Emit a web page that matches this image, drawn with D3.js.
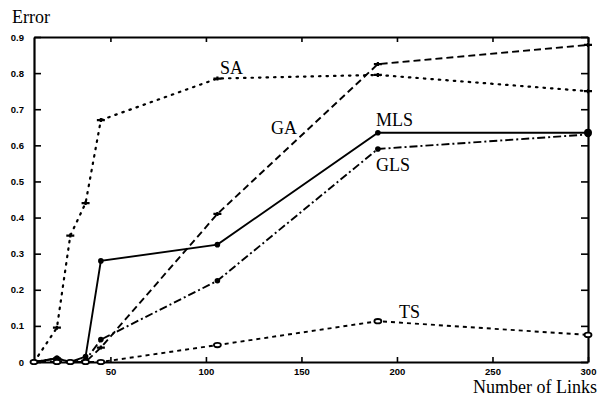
<!DOCTYPE html>
<html>
<head>
<meta charset="utf-8">
<script src="https://cdn.jsdelivr.net/npm/d3@7"></script>
<style>
  body { margin: 0; background: #fff; }
  .tick text { font-family: "Liberation Sans", Arial, sans-serif; font-weight: bold; font-size: 9.5px; }
  .lbl { font-family: "Liberation Serif", "Times New Roman", serif; font-size: 18px; fill: #000; }
</style>
</head>
<body>
<div id="chart"></div>
<script>
// number of links (x) shared by all series
var links = [10, 22, 29, 37, 45, 106, 190, 300];

var mls = [0, 0.01, 0, 0.015, 0.28, 0.325, 0.635, 0.635];
var gls = [0, 0.01, 0, 0.005, 0.062, 0.225, 0.59, 0.63];
var ga  = [0, 0.01, 0, 0, 0.04, 0.41, 0.825, 0.878];
var sa  = [0, 0.095, 0.35, 0.44, 0.67, 0.785, 0.795, 0.75];
var ts  = [0, 0, 0, 0, 0, 0.047, 0.113, 0.075];

var xTicks = [50, 100, 150, 200, 250, 300];
var yTicks = [0, 0.1, 0.2, 0.3, 0.4, 0.5, 0.6, 0.7, 0.8, 0.9];

var svgWidth = 603, svgHeight = 398;
var margin = {top: 37, right: 15, bottom: 36, left: 34};
var width = svgWidth - margin.left - margin.right;
var height = svgHeight - margin.top - margin.bottom;

var svg = d3.select("#chart").append("svg")
  .attr("width", svgWidth)
  .attr("height", svgHeight);

var chartGroup = svg.append("g")
  .attr("transform", `translate(${margin.left}, ${margin.top})`);

var xScale = d3.scaleLinear().domain([10, 300]).range([0, width]);
var yScale = d3.scaleLinear().domain([0, 0.9]).range([height, 0]);

function yFmt(d) { return d === 0 ? "0" : d3.format(".1f")(d); }

// bottom axis, ticks pointing inward
chartGroup.append("g")
  .attr("transform", `translate(0, ${height})`)
  .call(d3.axisBottom(xScale).tickValues(xTicks).tickSizeInner(-5).tickSizeOuter(0).tickPadding(6));
// top axis, ticks only
chartGroup.append("g")
  .call(d3.axisTop(xScale).tickValues(xTicks).tickSizeInner(-5).tickSizeOuter(0).tickFormat(""));
// left axis
chartGroup.append("g")
  .call(d3.axisLeft(yScale).tickValues(yTicks).tickSizeInner(-7).tickSizeOuter(0).tickPadding(10).tickFormat(yFmt));
// right axis, ticks only
chartGroup.append("g")
  .attr("transform", `translate(${width}, 0)`)
  .call(d3.axisRight(yScale).tickValues(yTicks).tickSizeInner(-7).tickSizeOuter(0).tickFormat(""));

chartGroup.selectAll(".domain").attr("stroke", "#000").attr("stroke-width", 2.2);
chartGroup.selectAll(".tick line").attr("stroke", "#000").attr("stroke-width", 1.6);
chartGroup.selectAll(".tick text").attr("fill", "#000");

var series = [
  {name: "MLS", vals: mls, dash: null, marker: "circle"},
  {name: "GLS", vals: gls, dash: "8,3,2,3", marker: "circle"},
  {name: "GA",  vals: ga,  dash: "7,4", marker: "cross"},
  {name: "SA",  vals: sa,  dash: "1.5,6", marker: "cross"},
  {name: "TS",  vals: ts,  dash: "4,4", marker: "ellipse"}
];

var line = d3.line()
  .x((d, i) => xScale(links[i]))
  .y(d => yScale(d));

series.forEach(function(s) {
  chartGroup.append("path")
    .datum(s.vals)
    .attr("d", line)
    .attr("fill", "none")
    .attr("stroke", "#000")
    .attr("stroke-width", s.name == "SA" ? 2.2 : 1.9)
    .attr("stroke-linecap", s.name == "SA" ? "round" : "butt")
    .attr("stroke-dasharray", s.dash);

  var pts = chartGroup.selectAll(null)
    .data(s.vals)
    .enter();
  if (s.marker == "circle") {
    pts.append("circle")
      .attr("cx", (d, i) => xScale(links[i]))
      .attr("cy", d => yScale(d))
      .attr("r", 2.8)
      .attr("fill", "#000");
  } else if (s.marker == "cross") {
    pts.append("path")
      .attr("transform", (d, i) => `translate(${xScale(links[i])}, ${yScale(d)})`)
      .attr("d", "M-4,0H4M0,-2V2")
      .attr("stroke", "#000")
      .attr("stroke-width", 2.2);
  } else {
    pts.append("ellipse")
      .attr("cx", (d, i) => xScale(links[i]))
      .attr("cy", d => yScale(d))
      .attr("rx", 3.5)
      .attr("ry", 2.2)
      .attr("fill", "#fff")
      .attr("stroke", "#000")
      .attr("stroke-width", 1.8);
  }
});

// endpoint at 300 for MLS drawn bigger like the scan
chartGroup.append("circle")
  .attr("cx", xScale(links[7]))
  .attr("cy", yScale(mls[7]))
  .attr("r", 4)
  .attr("fill", "#000");

// series labels
var labels = [
  {t: "SA", x: 220, y: 74},
  {t: "GA", x: 271, y: 134},
  {t: "MLS", x: 376, y: 126},
  {t: "GLS", x: 376, y: 171},
  {t: "TS", x: 399, y: 318}
];
svg.selectAll(".serieslbl")
  .data(labels)
  .enter()
  .append("text")
  .attr("class", "lbl")
  .attr("x", d => d.x)
  .attr("y", d => d.y)
  .text(d => d.t);

svg.append("text").attr("class", "lbl")
  .attr("x", 12).attr("y", 23)
  .text("Error");

svg.append("text").attr("class", "lbl")
  .attr("x", 597).attr("y", 393)
  .attr("text-anchor", "end")
  .text("Number of Links");
</script>
</body>
</html>
